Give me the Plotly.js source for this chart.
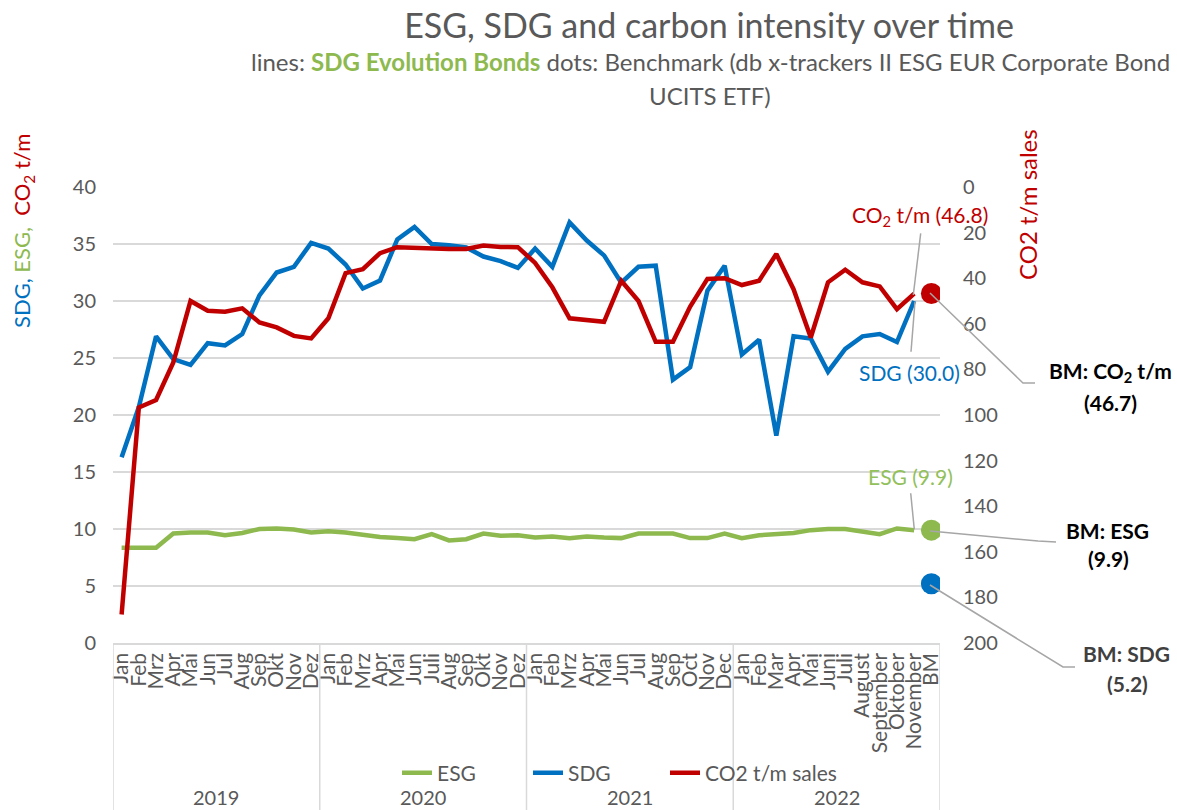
<!DOCTYPE html>
<html>
<head>
<meta charset="utf-8">
<script src="https://cdn.plot.ly/plotly-3.0.1.min.js"></script>
<style>html,body{margin:0;padding:0;background:#fff;}#chart{width:1177px;height:810px;}</style>
</head>
<body>
<div id="chart"></div>
<script>
// ---- data ----
const yearGroups = [
  '2019','2019','2019','2019','2019','2019','2019','2019','2019','2019','2019','2019',
  '2020','2020','2020','2020','2020','2020','2020','2020','2020','2020','2020','2020',
  '2021','2021','2021','2021','2021','2021','2021','2021','2021','2021','2021','2021',
  '2022','2022','2022','2022','2022','2022','2022','2022','2022','2022','2022'
];
const monthLabels = [
  'Jan','Feb','Mrz','Apr','Mai','Jun','Jul','Aug','Sep','Okt','Nov','Dez',
  'Jan','Feb','Mrz','Apr','Mai','Jun','Juli','Aug','Sep','Okt','Nov','Dez',
  'Jan','Feb','Mrz','Apr','Mai','Jun','Jul','Aug','Sep','Oct','Nov','Dec',
  'Jan','Feb','Mar','Apr','Mai','Juni','Juli','August','September','Oktober','November'
];
const esgValues = [
  8.35,8.35,8.35,9.6,9.7,9.7,9.45,9.65,10.0,10.05,9.95,9.7,
  9.8,9.7,9.45,9.3,9.2,9.1,9.55,9.0,9.1,9.6,9.4,9.45,
  9.25,9.35,9.2,9.35,9.25,9.2,9.6,9.6,9.6,9.2,9.2,9.6,
  9.2,9.45,9.55,9.65,9.9,10.0,10.0,9.8,9.55,10.05,9.9
];
const sdgValues = [
  16.3,20.7,26.9,24.9,24.4,26.3,26.1,27.1,30.5,32.5,33.0,35.1,
  34.6,33.2,31.1,31.8,35.4,36.5,35.0,34.9,34.7,33.9,33.5,32.9,
  34.6,33.0,36.9,35.3,34.0,31.6,33.0,33.1,23.1,24.2,30.9,33.1,
  25.3,26.6,18.2,26.9,26.7,23.8,25.8,26.9,27.1,26.4,30.0
];
const co2Values = [
  187.5,96.7,93.4,77.0,50.0,54.3,54.7,53.2,59.4,61.6,65.3,66.4,
  57.6,37.8,36.0,29.0,26.4,26.7,27.2,27.2,27.2,25.7,26.3,26.4,
  33.3,44.0,57.6,58.3,59.1,41.1,50.0,67.9,67.9,52.4,40.3,40.0,
  43.0,41.1,29.4,44.8,66.0,41.8,36.3,41.8,43.6,53.6,46.8
];
const bmGroup = ['2022'];
const bmLabel = ['BM'];
const bmESG = [9.9];
const bmSDG = [5.2];
const bmCO2 = [46.7];

// ---- category keys (unique per year/month) ----
const allGroups = yearGroups.concat(bmGroup);
const allLabels = monthLabels.concat(bmLabel);
const allKeys = allGroups.map((g, i) => g + '|' + allLabels[i]);
const lineKeys = allKeys.slice(0, monthLabels.length);
const bmKeys = allKeys.slice(monthLabels.length);

// ---- style ----
const FONT = 'Lato, "Open Sans", sans-serif';
const GRAY = '#595959';
const GRID = '#D9D9D9';
const GREEN = '#8DB94F';
const BLUE = '#0070C0';
const RED = '#C00000';
const LEAD = '#A6A6A6';

// plot area in pixels
const W = 1177, H = 810;
const L = 113, R = 940, T = 187, B = 643;
const px = X => (X - L) / (R - L);
const py = Y => (B - Y) / (B - T);

const traces = [
  {x:lineKeys, y:esgValues, name:'ESG', type:'scatter', mode:'lines', legend:'legend',
   line:{color:GREEN, width:4.5}, hoverinfo:'skip'},
  {x:lineKeys, y:sdgValues, name:'SDG', type:'scatter', mode:'lines', legend:'legend2',
   line:{color:BLUE, width:4.5}, hoverinfo:'skip'},
  {x:lineKeys, y:co2Values, name:'CO2 t/m sales', type:'scatter', mode:'lines', legend:'legend3',
   yaxis:'y2', line:{color:RED, width:4.5}, hoverinfo:'skip'},
  {x:bmKeys, y:bmESG, type:'scatter', mode:'markers', showlegend:false,
   marker:{color:GREEN, size:21}, hoverinfo:'skip'},
  {x:bmKeys, y:bmSDG, type:'scatter', mode:'markers', showlegend:false,
   marker:{color:BLUE, size:21}, hoverinfo:'skip'},
  {x:bmKeys, y:bmCO2, type:'scatter', mode:'markers', showlegend:false, yaxis:'y2',
   marker:{color:RED, size:21}, hoverinfo:'skip'}
];

function ann(X, Y, text, color, size, extra) {
  return Object.assign({xref:'paper', yref:'paper', x:px(X), y:py(Y), text:text, showarrow:false,
    xanchor:'center', yanchor:'middle', font:{family:FONT, size:size, color:color}}, extra || {});
}
function seg(points) {
  let d = '';
  points.forEach((p, i) => { d += (i ? ' L ' : 'M ') + px(p[0]) + ' ' + py(p[1]); });
  return {type:'path', xref:'paper', yref:'paper', path:d, line:{color:LEAD, width:1.5}};
}
function legendAt(X) {
  return {orientation:'h', x:px(X), y:py(773), xanchor:'left', yanchor:'middle',
    bgcolor:'rgba(0,0,0,0)', font:{family:FONT, size:21, color:GRAY}};
}

// year groups: dividers and labels
const groupNames = [...new Set(allGroups)];
const groupShapes = [];
const groupAnns = [];
groupNames.forEach(g => {
  const first = allGroups.indexOf(g);
  const last = allGroups.lastIndexOf(g);
  groupShapes.push({type:'line', xref:'x', yref:'paper', x0:first - 0.5, x1:first - 0.5,
    y0:0, y1:py(H), line:{color:GRID, width:1.5}});
  groupAnns.push({xref:'x', yref:'paper', x:(first + last) / 2, y:py(797), text:g, showarrow:false,
    xanchor:'center', yanchor:'middle', font:{family:FONT, size:20, color:GRAY}});
});
groupShapes.push({type:'line', xref:'x', yref:'paper', x0:allKeys.length - 0.5, x1:allKeys.length - 0.5,
  y0:0, y1:py(H), line:{color:GRID, width:1.5}});

const layout = {
  width:W, height:H,
  margin:{l:L, r:W-R, t:T, b:H-B, pad:0},
  paper_bgcolor:'#fff', plot_bgcolor:'#fff',
  font:{family:FONT, color:GRAY},
  showlegend:true,
  title:{text:'ESG, SDG and carbon intensity over time', xref:'container', yref:'container',
    x:709/W, y:1-26/H, xanchor:'center', yanchor:'middle',
    font:{family:FONT, size:34, color:GRAY}},
  xaxis:{type:'category', categoryorder:'array', categoryarray:allKeys, range:[-0.5, allKeys.length - 0.5],
    tickmode:'array', tickvals:allKeys, ticktext:allLabels, tickangle:-90,
    showgrid:false, zeroline:false, showline:true, linecolor:GRID, linewidth:1.5, ticks:'',
    tickfont:{family:FONT, size:21, color:GRAY}, automargin:false},
  yaxis:{range:[0,40], dtick:5, showgrid:true, gridcolor:GRID, gridwidth:1.5, zeroline:false,
    showline:false, ticks:'', ticklabelstandoff:16, tickfont:{family:FONT, size:20, color:GRAY}, automargin:false},
  yaxis2:{overlaying:'y', side:'right', range:[200,0], dtick:20, showgrid:false, zeroline:false,
    showline:false, ticks:'', ticklabelstandoff:22, tickfont:{family:FONT, size:20, color:GRAY}, automargin:false},
  legend:legendAt(397),
  legend2:legendAt(528),
  legend3:legendAt(665),
  annotations:[
    ann(710, 62, 'lines: <b><span style="color:' + GREEN + '">SDG Evolution Bonds</span></b> dots: Benchmark (db x-trackers II ESG EUR Corporate Bond', GRAY, 24),
    ann(710, 95, 'UCITS ETF)', GRAY, 24),
    ann(23, 231, '<span style="color:' + BLUE + '">SDG,</span> <span style="color:' + GREEN + '">ESG,</span>  <span style="color:' + RED + '">CO<sub>2</sub> t/m</span>', GRAY, 22, {textangle:-90}),
    ann(1027, 205, 'CO2 t/m sales', RED, 24, {textangle:-90}),
    ann(920, 216, 'CO<sub>2</sub> t/m (46.8)', RED, 21),
    ann(909, 372, 'SDG (30.0)', BLUE, 21),
    ann(910, 476, 'ESG (9.9)', '#92C05A', 21),
    ann(1110, 372, '<b>BM: CO<sub>2</sub> t/m</b>', '#000000', 21),
    ann(1110, 402, '<b>(46.7)</b>', '#000000', 21),
    ann(1107, 530, '<b>BM: ESG</b>', '#000000', 21),
    ann(1108, 558, '<b>(9.9)</b>', '#000000', 21),
    ann(1126, 653, '<b>BM: SDG</b>', '#404040', 21),
    ann(1127, 683, '<b>(5.2)</b>', '#404040', 21)
  ].concat(groupAnns),
  shapes:[
    seg([[920.7,233.3],[913.3,295]]),
    seg([[911,351.7],[915,301.7]]),
    seg([[910.7,493.3],[914.3,529.3]]),
    seg([[930,293],[1023,383],[1035,383]]),
    seg([[930,531],[1038,541],[1056,542]]),
    seg([[930,585],[1063,667],[1075,667]])
  ].concat(groupShapes)
};

Plotly.newPlot('chart', traces, layout, {displayModeBar:false, staticPlot:true});
</script>
</body>
</html>
